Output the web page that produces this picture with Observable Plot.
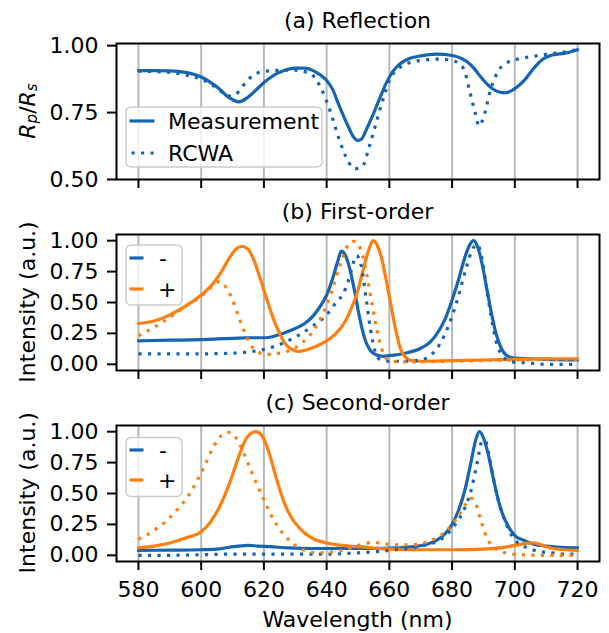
<!DOCTYPE html>
<html><head><meta charset="utf-8">
<script src="https://cdn.jsdelivr.net/npm/d3@7"></script>
<script src="https://cdn.jsdelivr.net/npm/@observablehq/plot@0.6"></script>
<style>
body{margin:0;background:#fff;}
#root{position:relative;width:609px;height:633px;font-family:"DejaVu Sans",sans-serif;overflow:hidden;}
#root > svg{position:absolute;left:0;}
</style></head><body><div id="root"></div>
<script>
// ---------- data ----------
const xTicks = [580, 600, 620, 640, 660, 680, 700, 720];
const aTicks = [0.5, 0.75, 1.0];
const bcTicks = [0, 0.25, 0.5, 0.75, 1.0];
const panelTitles = ["(a) Reflection", "(b) First-order", "(c) Second-order"];
const legendA = ["Measurement", "RCWA"];
const legendBC = ["-", "+"];
const yLabelB = "Intensity (a.u.)";
const xLabel = "Wavelength (nm)";

// (a) Reflection Rp/Rs  [wavelength, value]
const aMeasurement = [[580,0.907],[585,0.907],[590,0.906],[595,0.900],[600,0.883],[605,0.846],[609,0.805],[612,0.790],[615,0.808],[618,0.840],[620,0.862],[623,0.888],[626,0.905],[630,0.916],[633,0.916],[636,0.905],[638,0.890],[640,0.870],[642,0.835],[643.5,0.790],[645,0.748],[647,0.695],[648.5,0.660],[649.8,0.646],[651,0.650],[653,0.695],[655,0.748],[657,0.805],[659,0.860],[661,0.902],[663,0.928],[666,0.950],[670,0.962],[675,0.968],[680,0.963],[683,0.952],[685,0.938],[687,0.915],[689,0.885],[691,0.858],[693,0.838],[695,0.827],[697,0.824],[699,0.832],[701,0.848],[703,0.870],[705,0.900],[707,0.928],[709,0.950],[712,0.965],[716,0.972],[720,0.985]];
const aRCWA = [[580,0.905],[590,0.900],[597,0.885],[600,0.875],[603,0.857],[606,0.832],[609,0.812],[611,0.818],[613,0.845],[615,0.873],[618,0.898],[621,0.905],[625,0.908],[630,0.908],[633,0.903],[635,0.895],[638,0.846],[641,0.760],[644,0.650],[647,0.565],[649,0.540],[651.5,0.550],[653.5,0.620],[655.5,0.700],[658,0.800],[660,0.870],[663,0.915],[667,0.938],[671,0.946],[675,0.950],[679,0.947],[682,0.935],[684,0.905],[685.6,0.830],[687.4,0.747],[688.6,0.700],[690.4,0.747],[692.2,0.833],[694.8,0.907],[697.8,0.938],[701,0.950],[706,0.960],[710,0.968],[715,0.975],[720,0.985]];

// (b) First-order intensity
const bMinusMeas = [[580,0.19],[590,0.195],[600,0.20],[605,0.205],[610,0.21],[615,0.215],[620,0.215],[623,0.225],[626,0.25],[630,0.29],[633,0.33],[636,0.40],[638,0.47],[640,0.56],[642,0.70],[643.5,0.83],[644.7,0.915],[646,0.88],[647.5,0.76],[649,0.58],[650.5,0.38],[652,0.22],[654,0.11],[656,0.075],[658,0.065],[660,0.07],[665,0.09],[670,0.13],[673,0.18],[676,0.28],[678,0.38],[680,0.52],[682,0.68],[684,0.86],[685.5,0.96],[686.8,1.0],[688,0.96],[689.5,0.82],[691,0.62],[692.5,0.42],[694,0.25],[695.5,0.14],[697.5,0.07],[700,0.05],[705,0.045],[710,0.04],[720,0.035]];
const bPlusMeas = [[580,0.33],[585,0.35],[590,0.40],[595,0.47],[600,0.56],[603,0.63],[606,0.73],[609,0.86],[611,0.93],[613,0.955],[615,0.93],[617,0.83],[619,0.68],[621,0.52],[623,0.37],[625,0.25],[627,0.16],[629,0.12],[631,0.105],[634,0.12],[637,0.15],[640,0.19],[643,0.25],[646,0.35],[648,0.46],[650,0.60],[652,0.80],[653.5,0.93],[654.8,1.0],[656,0.97],[657.5,0.86],[659,0.68],[660.5,0.48],[662,0.28],[663.5,0.13],[665,0.06],[667,0.03],[670,0.025],[680,0.03],[690,0.035],[700,0.04],[710,0.045],[720,0.045]];
const bMinusRCWA = [[580,0.085],[590,0.085],[600,0.085],[610,0.09],[615,0.10],[620,0.12],[625,0.16],[630,0.22],[635,0.30],[640,0.40],[643,0.50],[645,0.56],[647,0.68],[648.5,0.82],[649.5,0.88],[651,0.80],[652.5,0.55],[654,0.28],[655.5,0.10],[657,0.04],[660,0.025],[665,0.025],[670,0.035],[673,0.07],[676,0.16],[679,0.32],[682,0.55],[684.5,0.78],[686.5,0.93],[688,0.97],[689.5,0.86],[691,0.62],[692.5,0.38],[694,0.19],[696,0.07],[699,0.02],[705,0.01],[710,0.0],[720,0.0]];
const bPlusRCWA = [[580,0.23],[585,0.30],[590,0.38],[595,0.47],[600,0.55],[603,0.62],[606,0.67],[608,0.62],[610,0.52],[612,0.38],[614,0.25],[616,0.15],[618,0.10],[621,0.08],[625,0.09],[628,0.11],[632,0.17],[636,0.28],[639,0.42],[642,0.62],[644.5,0.82],[646.5,0.95],[648.5,0.995],[650,0.97],[651.5,0.88],[653,0.70],[654.5,0.48],[656,0.28],[657.5,0.13],[659,0.05],[661,0.025],[665,0.02],[680,0.025],[700,0.035],[720,0.04]];

// (c) Second-order intensity
const cMinusMeas = [[580,0.04],[590,0.042],[600,0.045],[605,0.05],[609,0.065],[612,0.075],[615,0.08],[618,0.075],[622,0.07],[628,0.06],[635,0.055],[645,0.055],[655,0.055],[662,0.06],[668,0.07],[672,0.09],[675,0.12],[678,0.18],[680,0.25],[682,0.36],[684,0.52],[686,0.75],[687.5,0.93],[688.7,1.0],[690,0.95],[691.5,0.82],[693,0.64],[694.5,0.47],[696,0.34],[698,0.23],[700,0.16],[703,0.12],[706,0.09],[710,0.075],[715,0.065],[720,0.06]];
const cPlusMeas = [[580,0.06],[585,0.075],[590,0.10],[595,0.14],[600,0.19],[603,0.27],[606,0.40],[609,0.58],[612,0.80],[614.5,0.95],[617.5,1.0],[620,0.94],[622,0.80],[624,0.62],[626,0.46],[628,0.34],[630,0.26],[633,0.18],[636,0.13],[640,0.10],[645,0.08],[650,0.07],[660,0.05],[670,0.045],[680,0.045],[690,0.05],[695,0.06],[700,0.08],[703,0.095],[706,0.10],[709,0.08],[712,0.055],[716,0.045],[720,0.04]];
const cMinusRCWA = [[580,0.0],[590,0.0],[600,0.005],[610,0.01],[620,0.01],[630,0.01],[640,0.01],[650,0.02],[656,0.03],[662,0.045],[667,0.06],[671,0.08],[675,0.11],[678,0.16],[681,0.25],[684,0.38],[686,0.52],[688,0.75],[689.5,0.92],[690.5,0.93],[692,0.78],[693.5,0.58],[695,0.42],[697,0.27],[699,0.16],[701,0.10],[704,0.06],[708,0.03],[712,0.02],[716,0.01],[720,0.01]];
const cPlusRCWA = [[580,0.13],[583,0.17],[586,0.22],[589,0.28],[592,0.36],[595,0.45],[598,0.57],[601,0.72],[604,0.88],[606.5,0.97],[608.5,0.995],[610.5,0.97],[613,0.86],[615,0.74],[617,0.62],[620,0.45],[622,0.34],[624,0.25],[627,0.15],[630,0.08],[633,0.04],[637,0.02],[641,0.025],[645,0.04],[649,0.07],[652,0.095],[655,0.105],[658,0.095],[662,0.085],[667,0.085],[671,0.10],[675,0.14],[679,0.22],[682,0.32],[684.5,0.42],[686,0.46],[687.5,0.42],[689,0.30],[690.5,0.18],[692,0.10],[694,0.05],[697,0.02],[702,0.005],[710,0.0],[720,0.0]];

// ---------- styling ----------
const BLUE = "#1565b3", ORANGE = "#ff7f0e";
const FONT = "DejaVu Sans";
const FS = 22;
const LW = 3.2;
const DOT = "3.2,6.3";
const W = 609, ML = 116, MR = 10;
const root = document.getElementById("root");

function panel({top, height, mt, mb, yDomain, yTicks, series, xLabels}) {
  const marks = [
    Plot.gridX(xTicks, {stroke: "#b8b8b8", strokeOpacity: 1, strokeWidth: 2}),
    ...series.map(s => Plot.line(s.data, {x: d => d[0], y: d => d[1], stroke: s.color, strokeWidth: LW,
        strokeDasharray: s.dotted ? DOT : null, strokeLinecap: s.dotted ? "butt" : "round",
        curve: "monotone-x", strokeLinejoin: "round"})),
    Plot.frame({stroke: "#000", strokeWidth: 2}),
    Plot.axisY({ticks: yTicks, tickSize: 9, tickPadding: 9, strokeWidth: 2, label: null,
        tickFormat: d3.format(".2f"), fontSize: FS}),
    Plot.axisX({ticks: xTicks, tickSize: 9, tickPadding: 11, strokeWidth: 2, label: null,
        tickFormat: xLabels ? d => String(d) : () => "", fontSize: FS})
  ];
  const svg = Plot.plot({
    width: W, height, marginLeft: ML, marginRight: MR, marginTop: mt, marginBottom: mb,
    x: {domain: [573, 727]},
    y: {domain: yDomain},
    style: {fontFamily: FONT, fontSize: FS + "px", color: "#000", background: "transparent", overflow: "visible"},
    marks
  });
  svg.style.top = top + "px";
  root.appendChild(svg);
}

panel({top: 0, height: 200, mt: 43, mb: 21, yDomain: [0.5, 1.008], yTicks: aTicks, xLabels: false,
  series: [{data: aMeasurement, color: BLUE}, {data: aRCWA, color: BLUE, dotted: true}]});
panel({top: 200, height: 190, mt: 34, mb: 20, yDomain: [-0.05, 1.05], yTicks: bcTicks, xLabels: false,
  series: [{data: bMinusMeas, color: BLUE}, {data: bPlusMeas, color: ORANGE},
           {data: bMinusRCWA, color: BLUE, dotted: true}, {data: bPlusRCWA, color: ORANGE, dotted: true}]});
panel({top: 390, height: 243, mt: 35, mb: 72, yDomain: [-0.05, 1.05], yTicks: bcTicks, xLabels: true,
  series: [{data: cMinusMeas, color: BLUE}, {data: cPlusMeas, color: ORANGE},
           {data: cMinusRCWA, color: BLUE, dotted: true}, {data: cPlusRCWA, color: ORANGE, dotted: true}]});

// ---------- overlay: titles, axis labels, legends ----------
const ns = "http://www.w3.org/2000/svg";
const ov = document.createElementNS(ns, "svg");
ov.setAttribute("width", W); ov.setAttribute("height", 633);
ov.style.top = "0px";
ov.setAttribute("font-family", FONT);
ov.setAttribute("font-size", FS);
root.appendChild(ov);
function el(tag, attrs, text) {
  const e = document.createElementNS(ns, tag);
  for (const k in attrs) e.setAttribute(k, attrs[k]);
  if (text != null) e.textContent = text;
  ov.appendChild(e); return e;
}
const cx = (ML + (W - MR)) / 2;
const frameTops = [43, 234, 425], frameBots = [179, 370, 560.5];
panelTitles.forEach((t, i) => el("text", {x: cx, y: frameTops[i] - 23, "text-anchor": "middle", "dominant-baseline": "central"}, t));
el("text", {x: cx, y: 619, "text-anchor": "middle", "dominant-baseline": "central"}, xLabel);

// y labels
const ya = el("text", {transform: `translate(27,${(frameTops[0] + frameBots[0]) / 2}) rotate(-90)`, "text-anchor": "middle", "dominant-baseline": "central"});
[["R", 0, true, FS], ["p", 5, true, 15], ["/", -5, false, FS], ["R", 0, true, FS], ["s", 5, true, 15]].forEach(([t, dy, it, fs]) => {
  const ts = document.createElementNS(ns, "tspan");
  ts.setAttribute("dy", dy);
  if (it) ts.setAttribute("font-style", "italic");
  ts.setAttribute("font-size", fs);
  ts.textContent = t; ya.appendChild(ts);
});
for (const i of [1, 2]) {
  el("text", {transform: `translate(27,${(frameTops[i] + frameBots[i]) / 2}) rotate(-90)`, "text-anchor": "middle", "dominant-baseline": "central"}, yLabelB);
}

// legends
function legend(x, y, w, h, hl, rows) {
  el("rect", {x, y, width: w, height: h, rx: 5, fill: "#fff", "fill-opacity": 0.8, stroke: "#cccccc", "stroke-width": 1.5});
  rows.forEach(r => {
    el("line", {x1: x + 3.5, x2: x + 3.5 + hl, y1: r.y, y2: r.y, stroke: r.color, "stroke-width": LW,
      "stroke-dasharray": r.dotted ? DOT : "none", "stroke-dashoffset": r.dotted ? -2 : 0});
    el("text", {x: r.tx, y: r.y, "dominant-baseline": "central"}, r.label);
  });
}
legend(126, 107, 196, 60, 25, [
  {y: 121, color: BLUE, label: legendA[0], tx: 168},
  {y: 153, color: BLUE, dotted: true, label: legendA[1], tx: 168}
]);
legend(126, 245, 56, 60, 14, [
  {y: 258, color: BLUE, label: legendBC[0], tx: 159},
  {y: 289, color: ORANGE, label: legendBC[1], tx: 158}
]);
legend(126, 437.5, 56, 59, 14, [
  {y: 450, color: BLUE, label: legendBC[0], tx: 159},
  {y: 480, color: ORANGE, label: legendBC[1], tx: 158}
]);
</script></body></html>
